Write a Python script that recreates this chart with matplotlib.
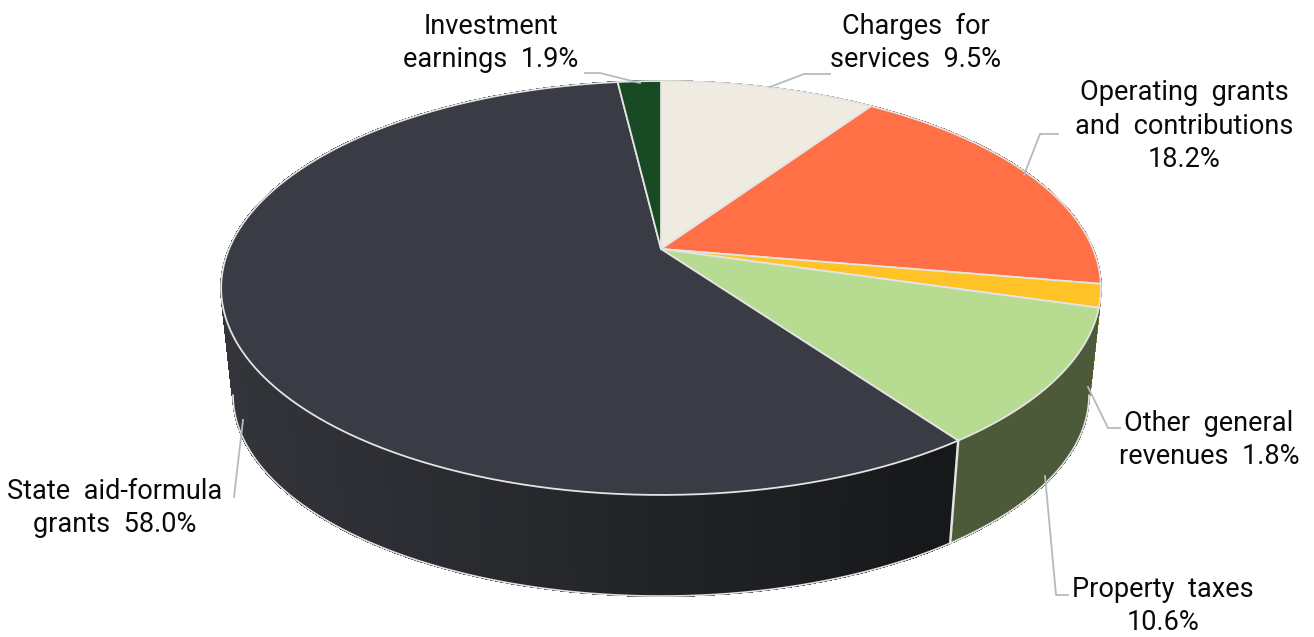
import numpy as np
from matplotlib import pyplot as plt
from matplotlib.colors import to_rgb
from matplotlib.patches import Polygon

plt.rcParams['font.family'] = ['Roboto', 'DejaVu Sans']

labels = ['Charges  for\nservices  9.5%', 'Operating  grants\nand  contributions\n18.2%',
          'Other  general\nrevenues  1.8%', 'Property  taxes\n10.6%',
          'State  aid-formula\ngrants  58.0%', 'Investment\nearnings  1.9%']
values = [9.5, 18.2, 1.8, 10.6, 58.0, 1.9]
top_colors = ['#efebe0', '#ff7047', '#ffc328', '#b7db91', '#3a3c45', '#174a22']
side_colors = ['#8f8d86', '#99432b', '#8f7a20', '#4c5a3a', '#2a2c31', '#0e2c14']

# label centres and leader lines, in image pixels
label_pos = [(916, 43), (1184, 126), (1209, 440), (1163, 606), (115, 508), (491, 43)]
leaders = [[(830, 74), (804, 74), (770, 87)],
           [(1058, 134), (1040, 134), (1024, 175)],
           [(1120, 428), (1108, 428), (1088, 387)],
           [(1068, 595), (1056, 595), (1045, 476)],
           [(234, 497), (243, 420)],
           [(585, 73), (600, 73), (640, 83)]]

# perspective of the pie: disc -> image
cx, cy = 661, 249
persp_a, persp_c, radius_k = -152.7, 0.1884, 432
# lower rim is the top rim pulled towards a vanishing point
vanish_y, rim_scale = 4240, 0.973


def top_point(deg):
    t = np.radians(deg)
    w = 1 + persp_c * np.cos(t)
    return np.column_stack([cx + radius_k * np.sin(t) / w,
                            (persp_a * np.cos(t) + cy) / w])


def low_point(deg):
    p = top_point(deg)
    return np.column_stack([cx + (p[:, 0] - cx) * rim_scale,
                            vanish_y - (vanish_y - p[:, 1]) * rim_scale])


def side_shade(base, x):
    # the dark slice gets lighter to the left, like the excel gradient
    if base == '#2a2c31':
        f = np.clip((x - 230) / 700, 0, 1)
        a, b = np.array(to_rgb('#33353b')), np.array(to_rgb('#17181a'))
        return tuple(a + (b - a) * f)
    return base


fig = plt.figure(figsize=(13.14, 6.37), dpi=100)
ax = fig.add_axes([0, 0, 1, 1])
ax.set_xlim(0, 1314)
ax.set_ylim(637, 0)
ax.axis('off')

edges = np.concatenate([[0], np.cumsum(values)]) * 3.6
edge_col = '#e4e4e4'

# side wall, back to front
strips = []
for i in range(len(values)):
    angs = np.arange(edges[i], edges[i + 1], 1.0)
    angs = np.append(angs, edges[i + 1])
    for a0, a1 in zip(angs[:-1], angs[1:]):
        strips.append((a0, a1, side_colors[i]))
strips.sort(key=lambda s: -np.cos(np.radians(s[0])))
for a0, a1, col in strips:
    pts = np.vstack([top_point(np.array([a0, a1])), low_point(np.array([a1, a0]))])
    c = side_shade(col, pts[:, 0].mean())
    ax.add_patch(Polygon(pts, closed=True, facecolor=c, edgecolor=c, linewidth=0.8,
                         antialiased=False, zorder=2))

# outer rim of the wall and the one visible slice joint
rim = np.linspace(101, 259, 300)
ax.plot(*low_point(rim).T, color=edge_col, lw=1.2, zorder=3)
joint = edges[4]
wall = np.vstack([top_point(np.array([joint])), low_point(np.array([joint]))])
ax.plot(wall[:, 0], wall[:, 1], color=edge_col, lw=1.8, zorder=3)

# top face
for i in range(len(values)):
    angs = np.linspace(edges[i], edges[i + 1], 120)
    pts = np.vstack([[[cx, cy]], top_point(angs)])
    ax.add_patch(Polygon(pts, closed=True, facecolor=top_colors[i], edgecolor=edge_col,
                         linewidth=1.3, joinstyle='round', zorder=4))

for line in leaders:
    xs, ys = zip(*line)
    ax.plot(xs, ys, color='#b4bac4', lw=1.3, zorder=5)

for text, (x, y) in zip(labels, label_pos):
    ax.text(x, y, text, ha='center', va='center', fontsize=19.5, color='#0a0a0a',
            linespacing=1.3, zorder=6)

fig.savefig('out.png', dpi=100)
